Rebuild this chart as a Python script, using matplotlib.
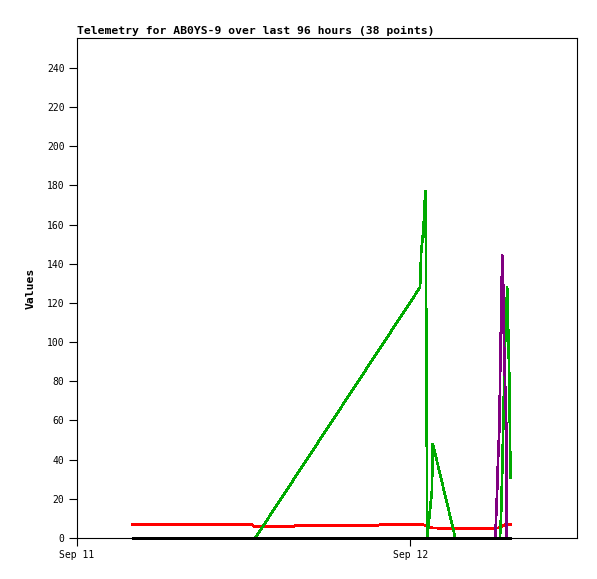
import matplotlib
matplotlib.use('Agg')
import matplotlib.pyplot as plt

# hours since Sep 11 00:00
red_t = [4.0, 12.6, 12.75, 15.6, 15.75, 21.7, 21.85, 24.8, 25.3, 25.6, 27.0, 30.1, 30.5, 30.8, 31.2]
red_v = [7.0, 7.0, 5.9, 5.9, 6.5, 6.5, 7.0, 7.0, 6.0, 5.1, 4.8, 4.8, 5.5, 6.8, 6.8]

black_t = [4.0, 12.7, 15.7, 21.8, 25.3, 30.1, 31.2]
black_v = [0, 0, 0, 0, 0, 0, 0]

green_t = [12.83, 24.7, 24.78, 24.95, 25.03, 25.1, 25.16, 25.22, 25.55, 25.62, 27.24,
           30.45, 30.53, 30.61, 30.68, 30.8, 30.9, 30.97, 31.04, 31.13, 31.21]
green_v = [0, 128, 146, 158, 171, 177, 88, 0, 24, 48, 0,
           0, 11, 32, 54, 96, 112, 128, 108, 80, 31]

purple_t = [30.12, 30.25, 30.32, 30.41, 30.49, 30.56, 30.61, 30.68, 30.72, 30.8, 30.9, 30.92]
purple_v = [0, 24.5, 41, 56, 96, 120, 144.5, 132, 108, 84, 60, 0]

x_ticks = [0, 24]
x_labels = ['Sep 11', 'Sep 12']
y_ticks = list(range(0, 241, 20))

mono = ['DejaVu Sans Mono']

fig = plt.figure(figsize=(5.97, 5.79), dpi=100)
ax = fig.add_axes([77 / 597, 41 / 579, 500 / 597, 500 / 579])

lw = 1.2
ax.plot(red_t, red_v, color='#ff0000', lw=lw, antialiased=False, clip_on=False)
ax.plot(green_t, green_v, color='#00aa00', lw=lw, antialiased=False, clip_on=False)
ax.plot(purple_t, purple_v, color='#800080', lw=lw, antialiased=False, clip_on=False)
ax.plot(black_t, black_v, color='black', lw=1.0, antialiased=False, clip_on=False)

ax.set_xlim(0, 36)
ax.set_ylim(0, 255.3)
ax.set_xticks(x_ticks)
ax.set_xticklabels(x_labels, family=mono, fontsize=7)
ax.set_yticks(y_ticks)
ax.set_yticklabels([str(v) for v in y_ticks], family=mono, fontsize=7)
ax.tick_params(direction='out', length=6, width=0.8, pad=3)

for s in ax.spines.values():
    s.set_linewidth(0.8)

ax.set_ylabel('Values', family=mono, fontsize=8.2, fontweight='bold', labelpad=8)
ax.set_title('Telemetry for AB0YS-9 over last 96 hours (38 points)', family=mono,
             fontsize=8.2, fontweight='bold', loc='left', pad=3)

fig.savefig('out.png', dpi=100)
